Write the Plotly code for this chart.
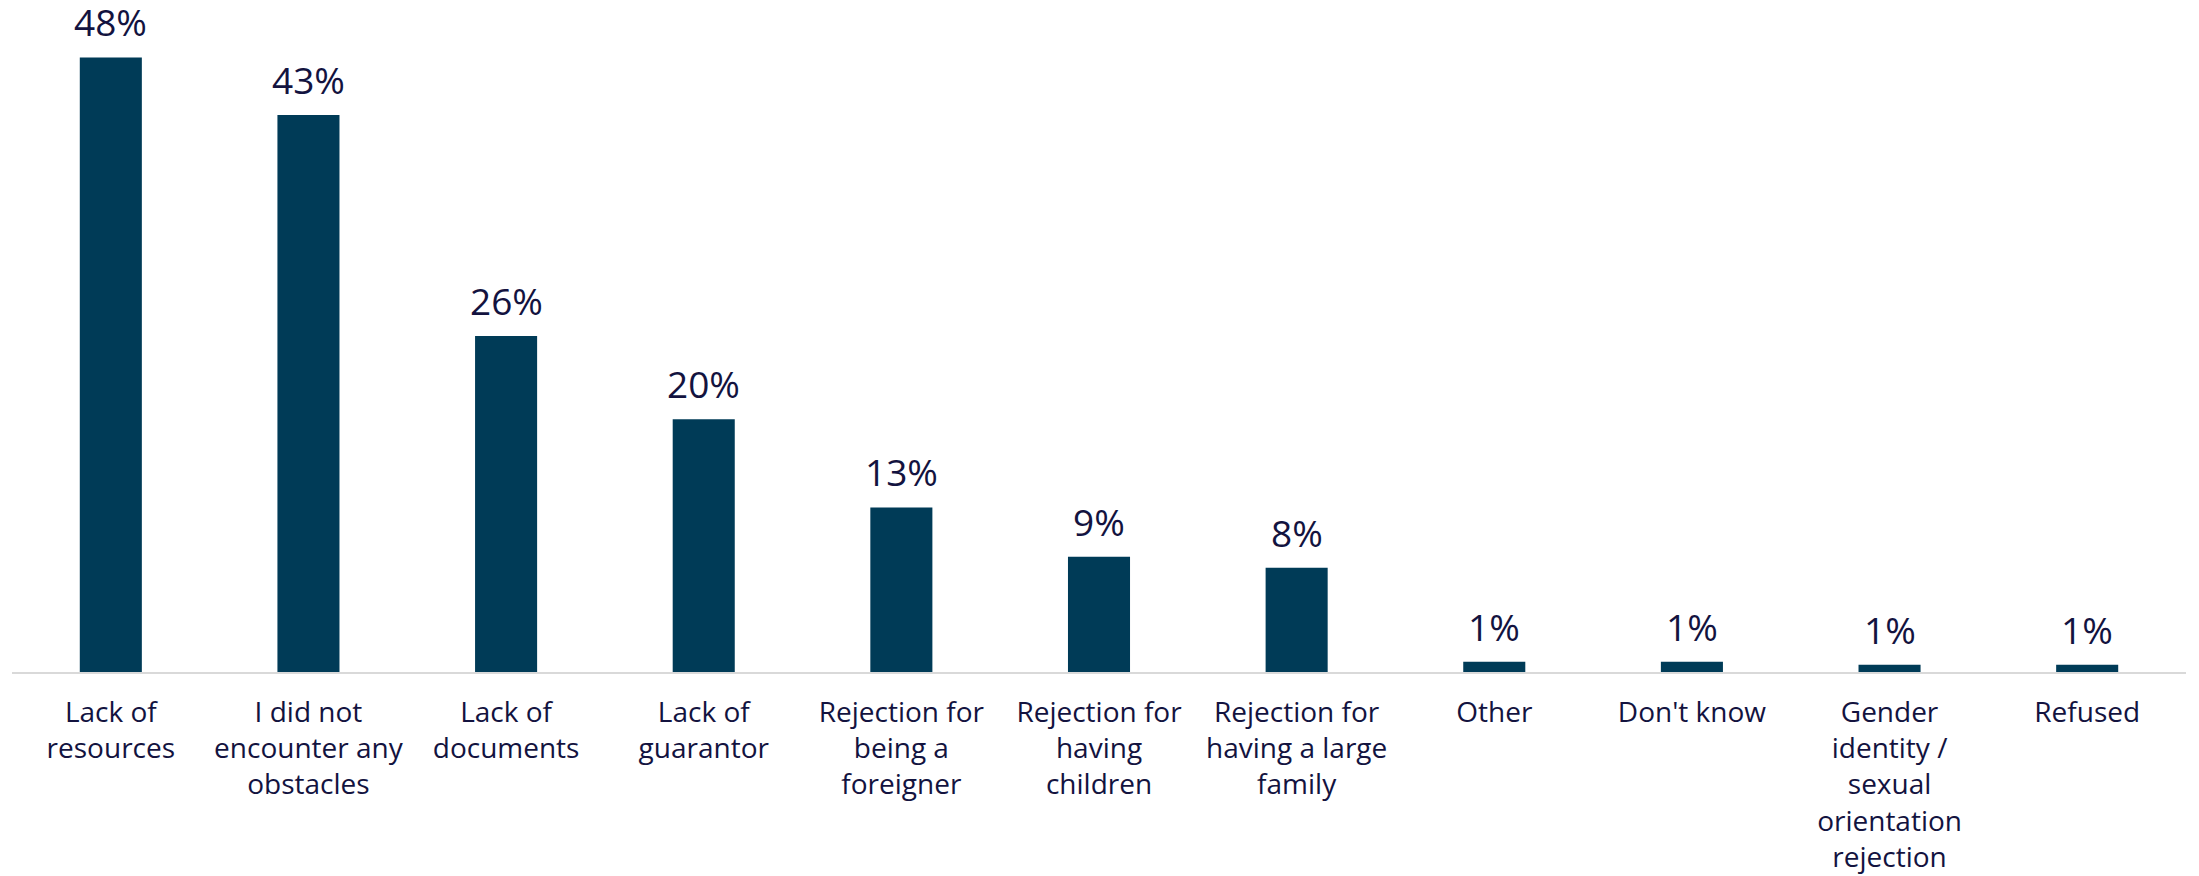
import plotly.graph_objects as go

categories = [
    "Lack of<br>resources",
    "I did not<br>encounter any<br>obstacles",
    "Lack of<br>documents",
    "Lack of<br>guarantor",
    "Rejection for<br>being a<br>foreigner",
    "Rejection for<br>having<br>children",
    "Rejection for<br>having a large<br>family",
    "Other",
    "Don't know",
    "Gender<br>identity /<br>sexual<br>orientation<br>rejection",
    "Refused",
]
values = [48.0, 43.5, 26.25, 19.75, 12.85, 9.0, 8.15, 0.8, 0.8, 0.57, 0.57]
labels = ["48%", "43%", "26%", "20%", "13%", "9%", "8%", "1%", "1%", "1%", "1%"]

bar_color = "#003b57"
text_color = "#13133f"
font_family = "'Open Sans', Lato, sans-serif"

fig = go.Figure()

fig.add_trace(
    go.Bar(
        x=categories,
        y=values,
        marker=dict(color=bar_color, line=dict(width=0)),
        hoverinfo="none",
        showlegend=False,
    )
)

# value labels above bars
for cat, val, lab in zip(categories, values, labels):
    fig.add_annotation(
        x=cat,
        y=val,
        text=lab,
        showarrow=False,
        yanchor="bottom",
        yshift=8,
        font=dict(size=37, color=text_color, family=font_family),
    )

# page body has an 8px margin, so size/margins are trimmed to compensate
fig.update_layout(
    width=2191,
    height=868,
    margin=dict(l=4, r=13, t=20, b=204),
    plot_bgcolor="white",
    paper_bgcolor="white",
    bargap=0.686,
    font=dict(family=font_family, color=text_color),
    xaxis=dict(
        showline=True,
        linecolor="#d9d9d9",
        linewidth=2,
        showgrid=False,
        ticks="",
        tickfont=dict(size=28, color=text_color, family=font_family),
        ticklabelstandoff=14,
        automargin=False,
    ),
    yaxis=dict(
        range=[0, 50.3],
        showgrid=False,
        zeroline=False,
        showticklabels=False,
        automargin=False,
    ),
)

fig.write_html("out.html")
